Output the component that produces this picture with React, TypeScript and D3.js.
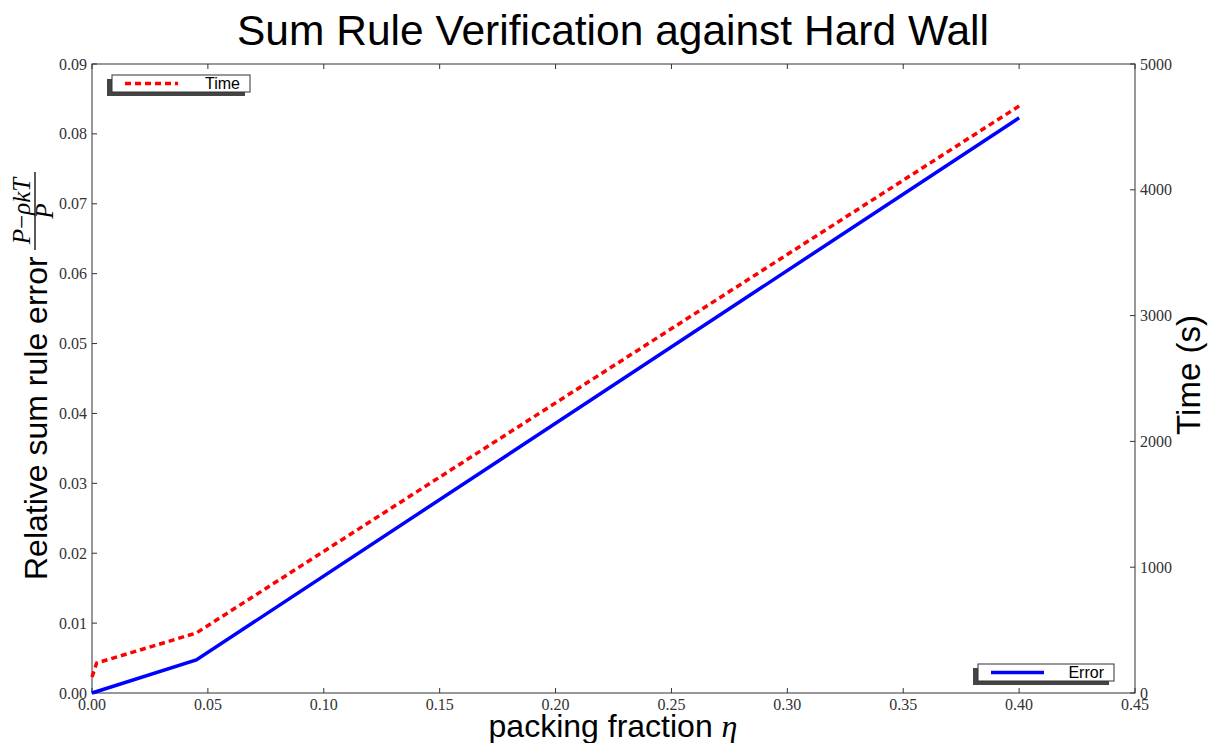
import { useEffect, useRef } from "react";
import * as d3 from "d3";

// packing fraction vs relative sum rule error (left axis)
const errorEta = [0, 0.045, 0.4];
const errorVals = [0, 0.00472, 0.0823];

// packing fraction vs run time in seconds (right axis)
const timeEta = [0, 0.002, 0.045, 0.4];
const timeVals = [127, 238, 477, 4666];

const xTicks = [0, 0.05, 0.1, 0.15, 0.2, 0.25, 0.3, 0.35, 0.4, 0.45];
const yTicks = [0, 0.01, 0.02, 0.03, 0.04, 0.05, 0.06, 0.07, 0.08, 0.09];
const y2Ticks = [0, 1000, 2000, 3000, 4000, 5000];

const W = 1213;
const H = 743;
const SANS = "'Liberation Sans', Arial, sans-serif";
const SERIF = "'Liberation Serif', 'Times New Roman', serif";

export default function App() {
  const svgRef = useRef<SVGSVGElement>(null);

  useEffect(() => {
    const svg = d3.select(svgRef.current);
    svg.selectAll("*").remove();

    const left = 92, right = 1135, top = 64, bottom = 693;
    const x = d3.scaleLinear().domain([0, 0.45]).range([left, right]);
    const y = d3.scaleLinear().domain([0, 0.09]).range([bottom, top]);
    const y2 = d3.scaleLinear().domain([0, 5000]).range([bottom, top]);

    svg.append("rect").attr("width", W).attr("height", H).attr("fill", "#fff");

    // frame
    svg.append("rect")
      .attr("x", left).attr("y", top)
      .attr("width", right - left).attr("height", bottom - top)
      .attr("fill", "none").attr("stroke", "#333").attr("stroke-width", 1);

    const tickLen = 5;
    const ticks = svg.append("g").attr("stroke", "#333").attr("stroke-width", 1);
    xTicks.forEach((t) => {
      ticks.append("line").attr("x1", x(t)).attr("x2", x(t)).attr("y1", bottom).attr("y2", bottom - tickLen);
      ticks.append("line").attr("x1", x(t)).attr("x2", x(t)).attr("y1", top).attr("y2", top + tickLen);
    });
    yTicks.forEach((t) => {
      ticks.append("line").attr("x1", left).attr("x2", left + tickLen).attr("y1", y(t)).attr("y2", y(t));
    });
    y2Ticks.forEach((t) => {
      ticks.append("line").attr("x1", right).attr("x2", right - tickLen).attr("y1", y2(t)).attr("y2", y2(t));
    });

    const lbl = svg.append("g").attr("font-family", SERIF).attr("font-size", 16).attr("fill", "#333");
    xTicks.forEach((t) => {
      lbl.append("text").attr("x", x(t)).attr("y", bottom + 17).attr("text-anchor", "middle").text(t.toFixed(2));
    });
    yTicks.forEach((t) => {
      lbl.append("text").attr("x", left - 5).attr("y", y(t)).attr("dy", "0.35em").attr("text-anchor", "end").text(t.toFixed(2));
    });
    y2Ticks.forEach((t) => {
      lbl.append("text").attr("x", right + 5).attr("y", y2(t)).attr("dy", "0.35em").text(String(t));
    });

    // series
    const errLine = d3.line<number>().x((d, i) => x(errorEta[i])).y((d) => y(d));
    const timeLine = d3.line<number>().x((d, i) => x(timeEta[i])).y((d) => y2(d));

    svg.append("path").attr("d", timeLine(timeVals)).attr("fill", "none")
      .attr("stroke", "#ff0000").attr("stroke-width", 3.5).attr("stroke-dasharray", "6,4");
    svg.append("path").attr("d", errLine(errorVals)).attr("fill", "none")
      .attr("stroke", "#0000ff").attr("stroke-width", 3.5);

    // legends with shadow
    const legend = (bx: number, by: number, w: number, h: number, label: string, color: string, dashed: boolean) => {
      const g = svg.append("g");
      g.append("rect").attr("x", bx - 5).attr("y", by + 4).attr("width", w).attr("height", h).attr("fill", "#444");
      g.append("rect").attr("x", bx).attr("y", by).attr("width", w).attr("height", h)
        .attr("fill", "#fff").attr("stroke", "#333").attr("stroke-width", 1);
      g.append("line").attr("x1", bx + 13).attr("x2", bx + 66).attr("y1", by + h / 2).attr("y2", by + h / 2)
        .attr("stroke", color).attr("stroke-width", 3.5).attr("stroke-dasharray", dashed ? "6,4" : null);
      g.append("text").attr("x", bx + w - 10).attr("y", by + h / 2).attr("dy", "0.36em")
        .attr("text-anchor", "end").attr("font-family", SANS).attr("font-size", 16).attr("fill", "#000").text(label);
    };
    legend(112, 75, 138, 17, "Time", "#ff0000", true);
    legend(978, 664, 136, 17, "Error", "#0000ff", false);

    // title
    svg.append("text").attr("x", 613).attr("y", 45).attr("text-anchor", "middle")
      .attr("font-family", SANS).attr("font-size", 42.5).attr("fill", "#000")
      .text("Sum Rule Verification against Hard Wall");

    // x label
    const xl = svg.append("text").attr("x", 613).attr("y", 737).attr("text-anchor", "middle")
      .attr("font-family", SANS).attr("font-size", 32).attr("fill", "#000");
    xl.append("tspan").text("packing fraction ");
    xl.append("tspan").attr("font-family", SERIF).attr("font-style", "italic").text("η");

    // right label
    svg.append("text").attr("transform", `translate(1200,375) rotate(-90)`).attr("text-anchor", "middle")
      .attr("font-family", SANS).attr("font-size", 33).attr("fill", "#000").text("Time (s)");

    // left label with fraction
    const gl = svg.append("g").attr("transform", `translate(35,376) rotate(-90)`);
    gl.append("text").attr("x", -204).attr("y", 12)
      .attr("font-family", SANS).attr("font-size", 32).attr("fill", "#000").text("Relative sum rule error");
    const fx = 165;
    gl.append("line").attr("x1", fx - 39).attr("x2", fx + 39).attr("y1", 0).attr("y2", 0)
      .attr("stroke", "#000").attr("stroke-width", 1.3);
    const num = gl.append("text").attr("x", fx).attr("y", -5).attr("text-anchor", "middle")
      .attr("font-family", SERIF).attr("font-size", 25).attr("fill", "#000");
    num.append("tspan").attr("font-style", "italic").text("P");
    num.append("tspan").text("−");
    num.append("tspan").attr("font-style", "italic").text("ρkT");
    gl.append("text").attr("x", fx).attr("y", 18).attr("text-anchor", "middle")
      .attr("font-family", SERIF).attr("font-style", "italic").attr("font-size", 25).attr("fill", "#000").text("P");
  }, []);

  return (
    <svg ref={svgRef} width={W} height={H} style={{ position: "absolute", left: 0, top: 0, display: "block" }} />
  );
}
